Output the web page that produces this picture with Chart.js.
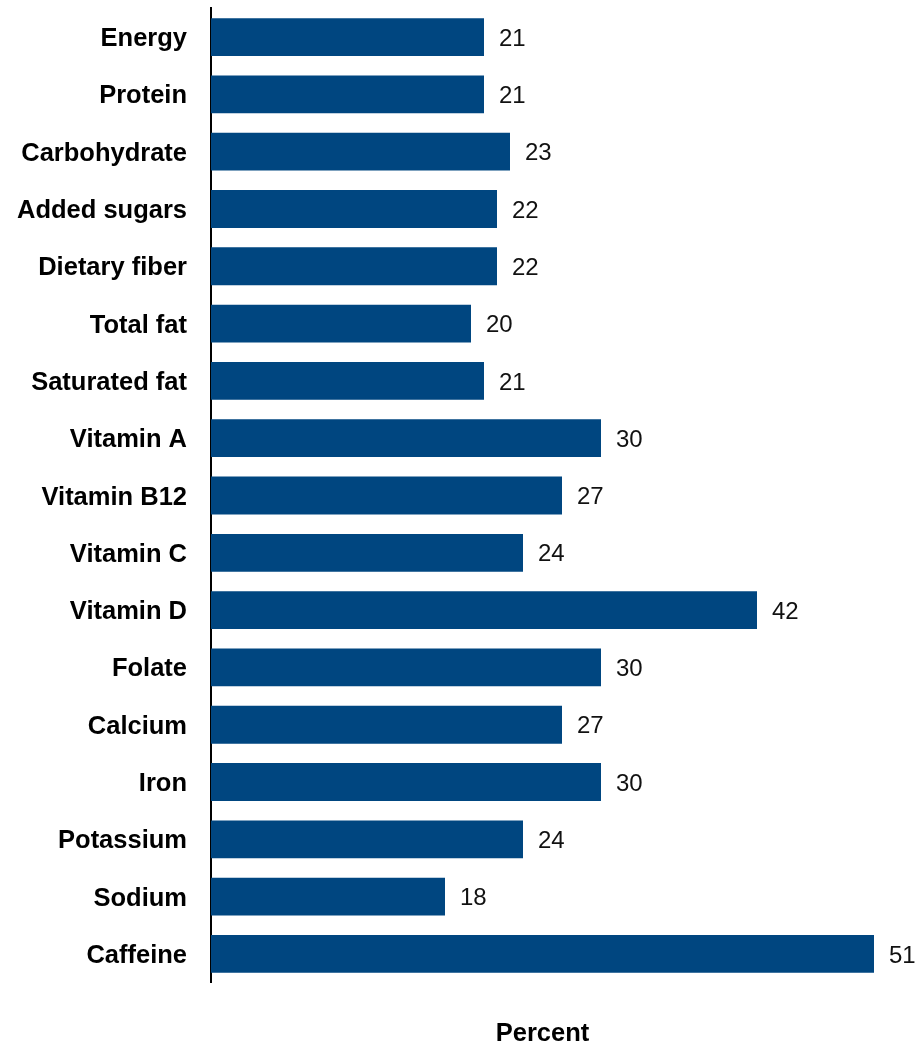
<!DOCTYPE html>
<html>
<head>
<meta charset="utf-8">
<script src="https://cdn.jsdelivr.net/npm/chart.js@4"></script>
<style>
html,body{margin:0;padding:0;background:#fff;}
#wrap{width:920px;height:1045px;position:relative;}
</style>
</head>
<body>
<div id="wrap"><canvas id="c"></canvas></div>
<script>
const categories = ["Energy","Protein","Carbohydrate","Added sugars","Dietary fiber","Total fat","Saturated fat","Vitamin A","Vitamin B12","Vitamin C","Vitamin D","Folate","Calcium","Iron","Potassium","Sodium","Caffeine"];
const values = [21,21,23,22,22,20,21,30,27,24,42,30,27,30,24,18,51];
const axisTitle = "Percent";

const FONT = "'Liberation Sans', Arial, sans-serif";

const valueLabels = {
  id: 'valueLabels',
  afterDatasetsDraw(chart) {
    const ctx = chart.ctx;
    const meta = chart.getDatasetMeta(0);
    ctx.save();
    ctx.font = "24px " + FONT;
    ctx.fillStyle = "#111";
    ctx.textAlign = "left";
    ctx.textBaseline = "middle";
    meta.data.forEach((bar, i) => {
      ctx.fillText(String(values[i]), bar.x + 15, bar.y + 2);
    });
    ctx.restore();
  }
};

new Chart(document.getElementById('c'), {
  type: 'bar',
  data: {
    labels: categories,
    datasets: [{
      data: values,
      backgroundColor: '#004680',
      borderWidth: 0,
      categoryPercentage: 1,
      barPercentage: 0.66
    }]
  },
  options: {
    indexAxis: 'y',
    responsive: true,
    maintainAspectRatio: false,
    animation: false,
    devicePixelRatio: 1,
    layout: { padding: { top: 8.4, right: 46, bottom: 0, left: 0 } },
    plugins: { legend: { display: false }, tooltip: { enabled: false } },
    scales: {
      x: {
        min: 0, max: 51,
        ticks: { display: false },
        grid: { display: false, drawTicks: false },
        border: { display: false },
        title: {
          display: true, text: axisTitle, color: '#000',
          font: { family: FONT, size: 25.5, weight: 'bold' },
          padding: { top: 0, bottom: -4 }
        },
        afterFit(scale) { scale.height = 62.4; scale.paddingLeft = 0; scale.paddingRight = 0; }
      },
      y: {
        ticks: {
          color: '#000', padding: 24, labelOffset: 2,
          font: { family: FONT, size: 25.5, weight: 'bold' }
        },
        grid: { display: false, drawTicks: false },
        border: { display: true, color: '#000', width: 2 },
        afterFit(scale) { scale.width = 211; scale.paddingTop = 0; scale.paddingBottom = 0; }
      }
    }
  },
  plugins: [valueLabels]
});
</script>
</body>
</html>
